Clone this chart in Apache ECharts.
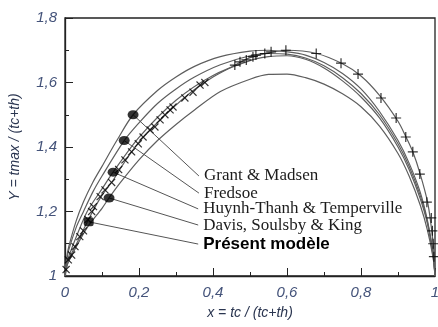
<!DOCTYPE html>
<html><head><meta charset="utf-8">
<script src="https://cdn.jsdelivr.net/npm/echarts@6/dist/echarts.min.js"></script>
<style>html,body{margin:0;padding:0;background:#fff}#c{width:438px;height:327px}</style>
</head><body><div id="c"></div>
<script>
// Curves: [x, Y] points
const grantMadsen = [[0,1],[0.005,1.06],[0.01,1.09],[0.03,1.17],[0.05,1.23],[0.075,1.29],[0.1,1.34],[0.14,1.42],[0.184,1.5],[0.25,1.575],[0.3,1.617],[0.35,1.65],[0.42,1.68],[0.5,1.697],[0.55,1.7],[0.6,1.695],[0.65,1.685],[0.7,1.662],[0.75,1.628],[0.8,1.58],[0.85,1.51],[0.9,1.42],[0.93,1.35],[0.96,1.26],[0.98,1.17],[0.995,1.07],[1,1]];
const fredsoe = [[0,1],[0.005,1.05],[0.01,1.08],[0.03,1.15],[0.05,1.2],[0.075,1.26],[0.1,1.31],[0.16,1.42],[0.2,1.475],[0.25,1.535],[0.3,1.58],[0.35,1.617],[0.42,1.655],[0.5,1.683],[0.55,1.69],[0.6,1.688],[0.65,1.676],[0.7,1.652],[0.75,1.615],[0.8,1.566],[0.85,1.5],[0.9,1.41],[0.93,1.34],[0.96,1.25],[0.98,1.165],[0.995,1.065],[1,1]];
const huynhThanh = [[0,1],[0.005,1.04],[0.01,1.06],[0.03,1.12],[0.06,1.2],[0.1,1.27],[0.13,1.322],[0.2,1.43],[0.3,1.545],[0.4,1.622],[0.5,1.668],[0.55,1.68],[0.6,1.683],[0.65,1.672],[0.7,1.645],[0.75,1.605],[0.8,1.555],[0.85,1.49],[0.9,1.4],[0.93,1.33],[0.96,1.24],[0.98,1.16],[0.995,1.06],[1,1]];
const davisSoulsby = [[0,1],[0.005,1.03],[0.01,1.045],[0.03,1.09],[0.06,1.15],[0.1,1.21],[0.119,1.242],[0.15,1.29],[0.2,1.36],[0.25,1.42],[0.3,1.47],[0.35,1.515],[0.42,1.572],[0.5,1.61],[0.55,1.625],[0.6,1.626],[0.65,1.615],[0.7,1.595],[0.75,1.565],[0.8,1.525],[0.85,1.465],[0.9,1.38],[0.93,1.31],[0.96,1.22],[0.98,1.14],[0.995,1.055],[1,1]];
const presentModele = [[0,1],[0.005,1.03],[0.01,1.05],[0.02,1.075],[0.04,1.12],[0.07,1.19],[0.1,1.25],[0.13,1.297],[0.162,1.355],[0.2,1.415],[0.25,1.476],[0.3,1.53],[0.35,1.578],[0.4,1.617],[0.45,1.648],[0.5,1.677],[0.55,1.692],[0.6,1.7],[0.68,1.69],[0.75,1.658],[0.8,1.62],[0.85,1.56],[0.9,1.48],[0.92,1.435],[0.94,1.385],[0.96,1.316],[0.98,1.229],[0.99,1.152],[0.995,1.1],[0.998,1.056],[1,1]];
// Cross markers
const crossesX = [0.003,0.009,0.018,0.027,0.04,0.05,0.062,0.072,0.077,0.095,0.108,0.126,0.145,0.162,0.18,0.198,0.211,0.23,0.243,0.257,0.27,0.284,0.292,0.324,0.346,0.365,0.378,0.459,0.473,0.49,0.508,0.516,0.54,0.557,0.597,0.679,0.746,0.792,0.854,0.895,0.921,0.94,0.959,0.978,0.99,0.993,0.995,0.997];
const crossesY = [1.02,1.05,1.065,1.091,1.122,1.14,1.175,1.2,1.215,1.246,1.267,1.29,1.33,1.36,1.385,1.41,1.431,1.453,1.462,1.484,1.5,1.515,1.524,1.552,1.57,1.592,1.6,1.654,1.664,1.67,1.68,1.685,1.69,1.695,1.7,1.69,1.66,1.626,1.552,1.49,1.431,1.385,1.316,1.229,1.18,1.14,1.1,1.06];
// Annotation: names, dot positions, leader-line ends
const labelNames = ['Grant & Madsen','Fredsoe','Huynh-Thanh & Temperville','Davis, Soulsby & King','Présent modèle'];
const dotX = [0.184,0.16,0.13,0.119,0.064];
const dotY = [1.5,1.42,1.322,1.242,1.168];
const leaderEndX = [0.362,0.362,0.36,0.36,0.36];
const leaderEndY = [1.31,1.257,1.208,1.158,1.099];
const xTicks = [0,0.2,0.4,0.6,0.8,1];
const yTicks = [1,1.2,1.4,1.6,1.8];

const fmt = v => String(Math.round(v*10)/10).replace('.', ',');
const curveStyle = {color:'#5e5e5e', width:1.2};
const plusPath = 'path://M44,0H56V44H100V56H56V100H44V56H0V44H44Z';

const series = [];
[grantMadsen, fredsoe, huynhThanh, davisSoulsby, presentModele].forEach((d,i)=>{
  series.push({type:'line', data:d, smooth:0.3, showSymbol:false, symbol:'none', lineStyle:curveStyle, z:2});
});
series.push({type:'scatter', z:4,
  data: crossesX.map((x,i)=>({value:[x,crossesY[i]], symbolRotate: x<0.42?45:0})),
  symbol: plusPath, symbolSize: 10, itemStyle:{color:'#000'}});
labelNames.forEach((n,i)=>{
  const bold = i===4;
  series.push({type:'line', name:n, z:3, data:[[dotX[i],dotY[i]],[leaderEndX[i],leaderEndY[i]]],
    symbol:'none', lineStyle:{color:'#555', width:1},
    endLabel:{show:true, formatter:n, distance:5,
      fontFamily: bold?'Liberation Sans':'Liberation Serif', fontWeight: bold?'bold':'normal',
      fontSize:17, color: bold?'#000':'#1c1c1c'}});
});
series.push({type:'scatter', z:5,
  data: dotX.map((x,i)=>({value:[x,dotY[i]], symbol: i===4?'roundRect':'circle', symbolSize: i===4?[10,9]:[11,9]})),
  itemStyle:{color:'#000'}});

const chart = echarts.init(document.getElementById('c'));
chart.setOption({
  animation:false,
  grid:{left:65, right:3, top:18, bottom:51, show:true, borderColor:'#222', borderWidth:1.3, outerBoundsMode:'none', containLabel:false},
  xAxis:{type:'value', min:0, max:1, interval:0.2,
    name:'x = tc / (tc+th)', nameLocation:'middle', nameGap:30,
    nameTextStyle:{fontFamily:'Liberation Sans', fontStyle:'italic', fontSize:14, color:'#2a3550'},
    axisLine:{lineStyle:{color:'#222', width:1.3}},
    axisTick:{inside:true, length:8, lineStyle:{color:'#222'}},
    minorTick:{show:true, splitNumber:2, length:4, lineStyle:{color:'#222'}},
    splitLine:{show:false},
    axisLabel:{formatter:fmt, margin:9, fontFamily:'Liberation Sans', fontStyle:'italic', fontSize:15, color:'#44537a'}},
  yAxis:{type:'value', min:1, max:1.8, interval:0.2,
    name:'Y = tmax / (tc+th)', nameLocation:'middle', nameGap:43, nameRotate:90,
    nameTextStyle:{fontFamily:'Liberation Sans', fontStyle:'italic', fontSize:14, color:'#2a3550'},
    axisLine:{lineStyle:{color:'#222', width:1.3}},
    axisTick:{inside:true, length:8, lineStyle:{color:'#222'}},
    minorTick:{show:true, splitNumber:2, length:4, lineStyle:{color:'#222'}},
    splitLine:{show:false},
    axisLabel:{formatter:fmt, margin:8, fontFamily:'Liberation Sans', fontStyle:'italic', fontSize:15, color:'#44537a'}},
  series: series
});
</script></body></html>
